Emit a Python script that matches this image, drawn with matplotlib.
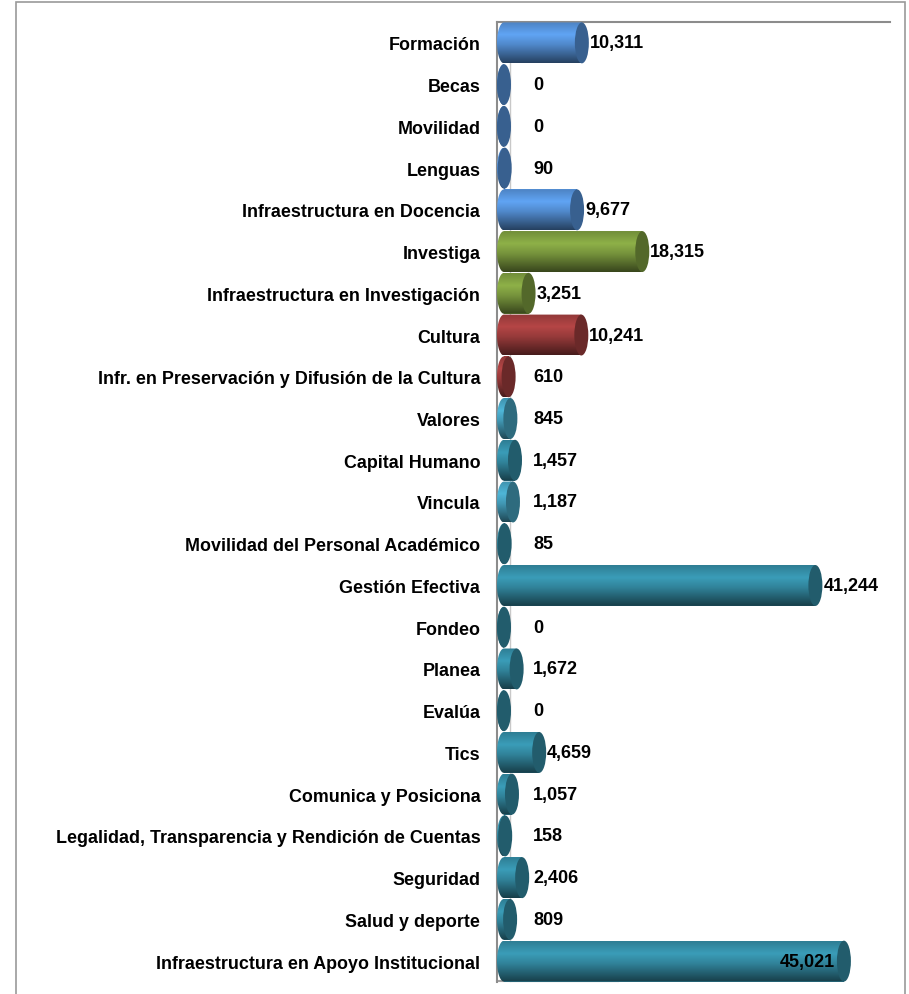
import numpy as np
import matplotlib
matplotlib.use("Agg")
from matplotlib import pyplot as plt
from matplotlib.patches import Ellipse, Polygon, Rectangle
from matplotlib.colors import to_rgb

plt.rcParams['font.family'] = ['Liberation Sans', 'DejaVu Sans']

categories = ["Formación", "Becas", "Movilidad", "Lenguas",
              "Infraestructura en Docencia", "Investiga",
              "Infraestructura en Investigación", "Cultura",
              "Infr. en Preservación y Difusión de la Cultura", "Valores",
              "Capital Humano", "Vincula", "Movilidad del Personal Académico",
              "Gestión Efectiva", "Fondeo", "Planea", "Evalúa", "Tics",
              "Comunica y Posiciona",
              "Legalidad, Transparencia y Rendición de Cuentas", "Seguridad",
              "Salud y deporte", "Infraestructura en Apoyo Institucional"]
values = [10311, 0, 0, 90, 9677, 18315, 3251, 10241, 610, 845, 1457, 1187,
          85, 41244, 0, 1672, 0, 4659, 1057, 158, 2406, 809, 45021]

blue = '#5b9be6'
green = '#86a744'
red = '#ab4242'
teal = '#3794ae'
lteal = '#4aaccc'
colors = [blue] * 5 + [green] * 2 + [red] * 2 + [lteal, teal, lteal] + [teal] * 11

W, H = 909, 995
fig = plt.figure(figsize=(W / 100, H / 100), dpi=100)
ax = fig.add_axes([497 / W, 1 - 983 / H, (890 - 497) / W, (983 - 23) / H])

# px -> data: 0 sits at px 504, 7.55 px per 1000
per_px = 1000 / 7.55
ax.set_xlim(-7 * per_px, (890 - 504) * per_px)
ax.set_ylim(len(categories) - 0.5, -0.5)

y = np.arange(len(categories))
h = 0.98
a = 7 * per_px  # half width of end ellipse

# gradient profile top -> bottom
t = np.linspace(0, 1, 60)
prof = np.interp(t, [0, 0.3, 0.55, 1], [0.85, 1.06, 0.88, 0.42])

bars = ax.barh(y, values, height=h, color=colors, zorder=2)
for b, v, c, yc in zip(bars, values, colors, y):
    rgb = np.array(to_rgb(c))
    img = np.clip(prof[:, None, None] * rgb[None, None, :], 0, 1)
    th = np.linspace(np.pi / 2, 3 * np.pi / 2, 40)
    pts = np.column_stack([a * np.cos(th), yc - h / 2 * np.sin(th)])
    pts = np.vstack([pts, [[v, yc + h / 2], [v, yc - h / 2]]])
    poly = Polygon(pts, closed=True, transform=ax.transData, facecolor='none', edgecolor='none')
    ax.add_patch(poly)
    im = ax.imshow(img, extent=(-a, v + 1, yc + h / 2, yc - h / 2), aspect='auto',
                   zorder=3, interpolation='bilinear')
    im.set_clip_path(poly)
    cap = np.clip(rgb * 0.62, 0, 1)
    ax.add_patch(Ellipse((v, yc), 2 * a, h, facecolor=cap, edgecolor='none', zorder=4))

# value labels
for v, yc in zip(values, y):
    txt = f"{v:,}"
    if v > 43000:
        ax.text(v - a - 2 * per_px, yc, txt, ha='right', va='center',
                fontsize=13, fontweight='bold', zorder=5)
    else:
        xl = max(v + a + 1 * per_px, 29 * per_px)
        ax.text(xl, yc, txt, ha='left', va='center', fontsize=13,
                fontweight='bold', zorder=5)

ax.set_yticks(y)
ax.set_yticklabels(categories, fontsize=12.9, fontweight='bold')
ax.set_xticks([])
ax.tick_params(axis='y', length=0, pad=12)

for s in ['right', 'bottom']:
    ax.spines[s].set_visible(False)
ax.spines['left'].set_color('#8c8c8c')
ax.spines['left'].set_linewidth(1.5)
ax.spines['top'].set_color('#8c8c8c')
ax.spines['top'].set_linewidth(1.5)

# wall back edge and floor edge
ax.axvline(6 * per_px, color='#c8c8c8', lw=1, zorder=1)
ax.plot([-7 * per_px, 6 * per_px], [22.48, 22.48], color='#a0a0a0', lw=1.5, zorder=1, clip_on=False)
ax.plot([6 * per_px, 114 * per_px], [22.48, 22.48], color='#d0d0d0', lw=1, zorder=1, clip_on=False)

# outer frame
fig.patches.append(Rectangle((16 / W, -0.01), (905 - 16) / W, 1.01 - 3 / H,
                             transform=fig.transFigure, fill=False,
                             edgecolor='#9a9a9a', lw=1.2))

fig.savefig("out.png", dpi=100)
